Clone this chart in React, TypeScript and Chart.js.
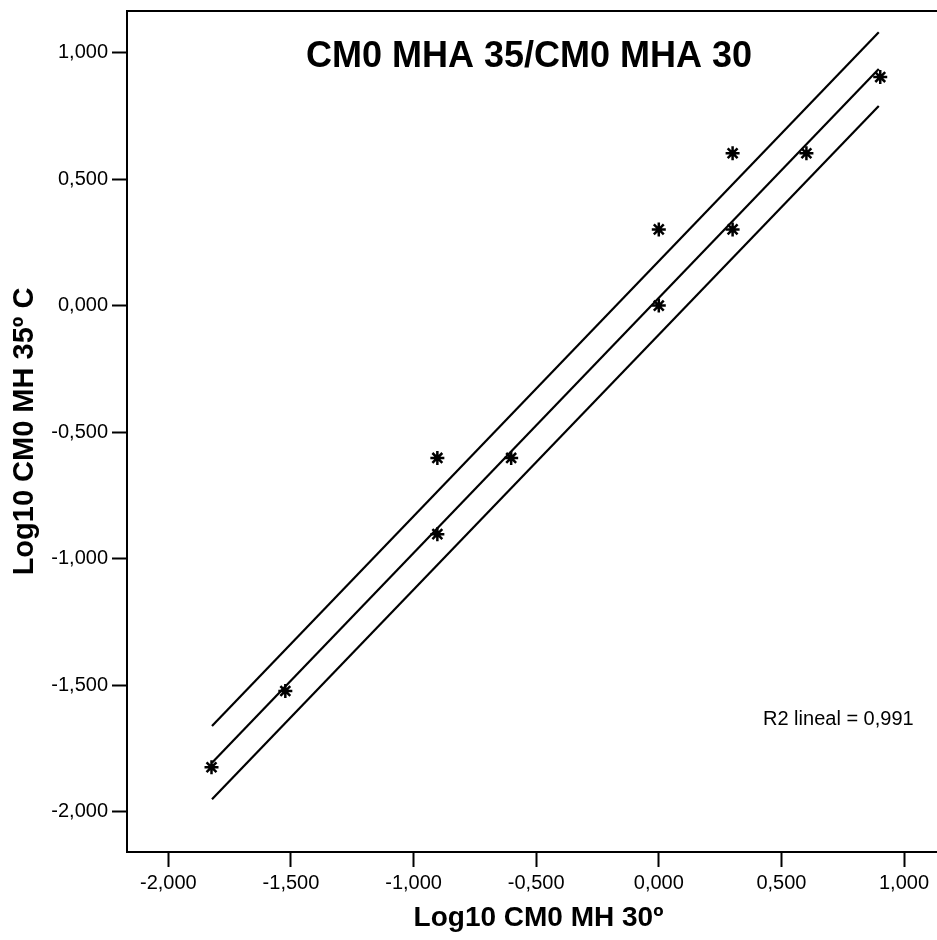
import React, { useEffect, useRef } from "react";
import { Chart, registerables } from "chart.js";

Chart.register(...registerables);

// ---- data ----
const xValues = [-1.824, -1.523, -0.903, -0.903, -0.602, 0, 0, 0.301, 0.301, 0.602, 0.903];
const yValues = [-1.824, -1.523, -0.602, -0.903, -0.602, 0.301, 0, 0.602, 0.301, 0.602, 0.903];
const fitX = [-1.822, 0.897];
const fitY = [-1.806, 0.935];
const upperY = [-1.661, 1.08];
const lowerY = [-1.951, 0.789];
const xTicks = [-2, -1.5, -1, -0.5, 0, 0.5, 1];
const yTicks = [-2, -1.5, -1, -0.5, 0, 0.5, 1];
const chartTitle = "CM0 MHA 35/CM0 MHA 30";
const xTitle = "Log10 CM0 MH 30º";
const yTitle = "Log10 CM0 MH 35º C";
const r2Label = "R2 lineal = 0,991";

const FONT = "'Liberation Sans', Arial, Helvetica, sans-serif";
const fmt = (v: number) => (Math.abs(v) < 1e-9 ? 0 : v).toFixed(3).replace(".", ",");

const toPoints = (xs: number[], ys: number[]) => xs.map((x, i) => ({ x, y: ys[i] }));

const textPlugin = {
  id: "textPlugin",
  afterDraw(chart: any) {
    const { ctx, chartArea } = chart;
    ctx.save();
    // top frame line
    ctx.strokeStyle = "#000";
    ctx.lineWidth = 2;
    ctx.beginPath();
    ctx.moveTo(chartArea.left - 1, chartArea.top);
    ctx.lineTo(chart.width, chartArea.top);
    ctx.stroke();
    // title
    ctx.fillStyle = "#000";
    ctx.textAlign = "center";
    ctx.textBaseline = "middle";
    ctx.font = `bold 36px ${FONT}`;
    ctx.fillText(chartTitle, 529, 57);
    // R2 label
    ctx.textAlign = "left";
    ctx.font = `20px ${FONT}`;
    ctx.fillText(r2Label, 763, 719);
    ctx.restore();
  },
};

export default function App() {
  const ref = useRef<HTMLCanvasElement | null>(null);
  useEffect(() => {
    if (!ref.current) return;
    const lineDs = (ys: number[]) => ({
      type: "line" as const,
      data: toPoints(fitX, ys),
      borderColor: "#000",
      borderWidth: 2.2,
      pointRadius: 0,
      showLine: true,
      fill: false,
    });
    const chart = new Chart(ref.current, {
      type: "scatter",
      data: {
        datasets: [
          lineDs(upperY) as any,
          lineDs(fitY) as any,
          lineDs(lowerY) as any,
          {
            type: "scatter",
            data: toPoints(xValues, yValues),
            pointStyle: "star",
            pointRadius: 7,
            pointBorderWidth: 2.5,
            borderColor: "#000",
            backgroundColor: "#000",
          } as any,
        ],
      },
      options: {
        animation: false,
        responsive: false,
        devicePixelRatio: 1,
        layout: { autoPadding: false, padding: { left: 0, top: 11, right: 0, bottom: 0 } },
        plugins: { legend: { display: false }, tooltip: { enabled: false } },
        scales: {
          x: {
            type: "linear",
            position: "bottom",
            min: -2.1686,
            max: 1.1875,
            afterBuildTicks: (s: any) => {
              s.ticks = xTicks.map((v) => ({ value: v }));
            },
            afterFit: (s: any) => {
              s.height = 88;
              s.paddingLeft = 0;
              s.paddingRight = 0;
            },
            ticks: {
              color: "#000",
              font: { family: FONT, size: 20 },
              padding: 4,
              maxRotation: 0,
              autoSkip: false,
              callback: (v: any) => fmt(Number(v)),
            },
            grid: {
              drawOnChartArea: false,
              drawTicks: true,
              tickLength: 15,
              tickWidth: 2,
              tickColor: "#000",
              color: "#000",
            },
            border: { display: true, color: "#000", width: 2 },
            title: {
              display: true,
              text: xTitle,
              color: "#000",
              font: { family: FONT, size: 28, weight: "bold" },
              padding: { top: 0, bottom: 5 },
            },
          },
          y: {
            type: "linear",
            position: "left",
            min: -2.159,
            max: 1.164,
            afterBuildTicks: (s: any) => {
              s.ticks = yTicks.map((v) => ({ value: v }));
            },
            afterFit: (s: any) => {
              s.width = 127;
              s.paddingTop = 0;
              s.paddingBottom = 0;
            },
            ticks: {
              color: "#000",
              font: { family: FONT, size: 20 },
              padding: 4,
              autoSkip: false,
              callback: (v: any) => fmt(Number(v)),
            },
            grid: {
              drawOnChartArea: false,
              drawTicks: true,
              tickLength: 15,
              tickWidth: 2,
              tickColor: "#000",
              color: "#000",
            },
            border: { display: true, color: "#000", width: 2 },
            title: {
              display: true,
              text: yTitle,
              color: "#000",
              font: { family: FONT, size: 29, weight: "bold" },
              padding: { top: 8, bottom: 0 },
            },
          },
        },
      },
      plugins: [textPlugin],
    });
    return () => chart.destroy();
  }, []);

  return (
    <div
      style={{
        position: "fixed",
        left: 0,
        top: 0,
        width: 937,
        height: 940,
        overflow: "hidden",
        background: "#fff",
      }}
    >
      <canvas ref={ref} width={950} height={940} style={{ display: "block" }} />
    </div>
  );
}
